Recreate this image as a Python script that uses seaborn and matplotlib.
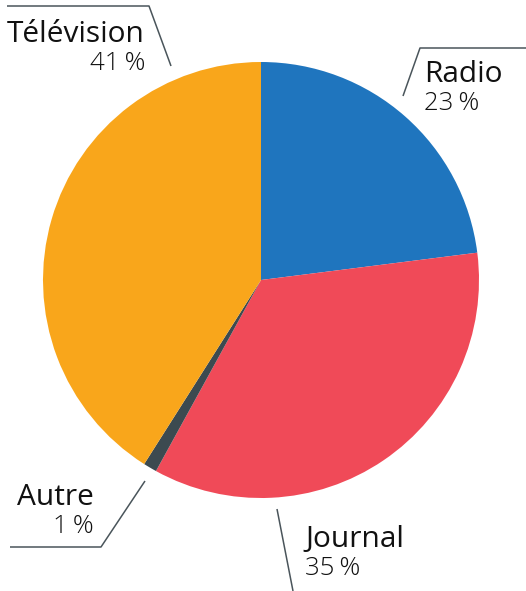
import matplotlib
matplotlib.use("Agg")
import matplotlib.pyplot as plt
import seaborn as sns

# === Data ===
labels = ["Radio", "Journal", "Autre", "Télévision"]
shares = [23, 35, 1, 41]
colors = ["#1f75be", "#f04a58", "#3c4a50", "#f9a61b"]

# label placement (pixel coords, y from top), alignment and leader lines
label_pos = {
    "Radio": (424, 82, "left"),
    "Journal": (305, 547, "left"),
    "Autre": (94, 505, "right"),
    "Télévision": (145, 42, "right"),
}
leaders = {
    "Radio": [(403, 96), (420, 48), (526, 48)],
    "Journal": [(277, 509), (293, 591)],
    "Autre": [(145, 481), (101, 547), (10, 547)],
    "Télévision": [(171, 66), (149, 6), (7, 6)],
}

W, H = 526, 591
sns.set_theme(style="white")
plt.rcParams["font.family"] = ["Open Sans", "DejaVu Sans"]

fig = plt.figure(figsize=(W / 100, H / 100), dpi=100)
ax = fig.add_axes([0, 0, 1, 1])

ax.pie(shares, colors=sns.color_palette(colors), startangle=90, counterclock=False,
       center=(261, H - 280), radius=218, wedgeprops=dict(linewidth=0))

# pie() resets the limits, so set them afterwards
ax.set_xlim(0, W)
ax.set_ylim(0, H)
ax.set_aspect("equal")
ax.axis("off")

for name, share in zip(labels, shares):
    x, y, ha = label_pos[name]
    ax.text(x, H - y, name, ha=ha, va="baseline", fontsize=21.5, color="#111111")
    ax.text(x, H - y - 28, f"{share}\u2009%", ha=ha, va="baseline", fontsize=18.5,
            fontweight="light", color="#111111")
    pts = leaders[name]
    ax.plot([p[0] for p in pts], [H - p[1] for p in pts], color="#4a555b", lw=1.1,
            solid_capstyle="butt", clip_on=False)

fig.savefig("out.png", dpi=100)
